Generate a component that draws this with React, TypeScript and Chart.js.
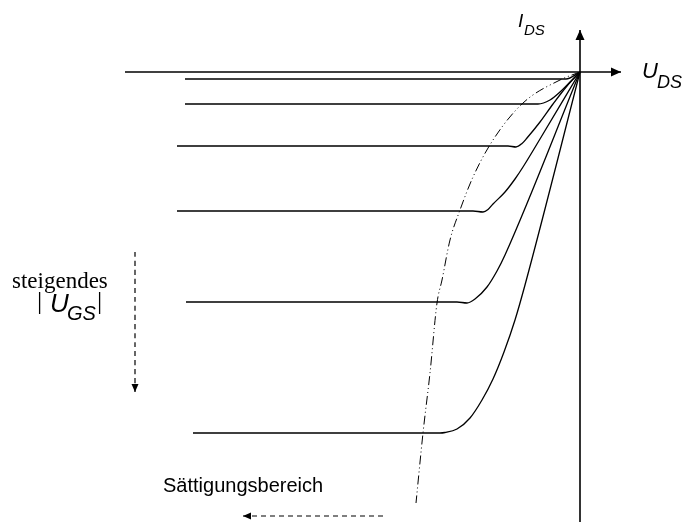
import React, { useEffect, useRef } from "react";
import { Chart, registerables } from "chart.js";

Chart.register(...registerables);

// Output characteristic curves (U_DS, I_DS) in arbitrary units, origin at (0,0)
const curve1 = [
  { x: -39.5, y: -0.7 }, { x: -1.4, y: -0.7 }, { x: 0, y: 0 },
];
const curve2 = [
  { x: -39.5, y: -3.2 }, { x: -4.2, y: -3.2 }, { x: -3.0, y: -2.8 },
  { x: -2.0, y: -2.0 }, { x: -1.0, y: -1.0 }, { x: 0, y: 0 },
];
const curve3 = [
  { x: -40.3, y: -7.4 }, { x: -7.2, y: -7.4 }, { x: -6.4, y: -7.5 },
  { x: -5.8, y: -7.15 }, { x: -5.3, y: -6.6 }, { x: -4.0, y: -5.0 },
  { x: -2.7, y: -3.2 }, { x: -1.3, y: -1.4 }, { x: 0, y: 0 },
];
const curve4 = [
  { x: -40.3, y: -13.9 }, { x: -10.7, y: -13.9 }, { x: -9.7, y: -14.0 },
  { x: -9.2, y: -13.75 }, { x: -8.7, y: -13.2 }, { x: -7.5, y: -12.0 },
  { x: -6.5, y: -10.7 }, { x: -5.7, y: -9.5 }, { x: -4.0, y: -6.7 },
  { x: 0, y: 0 },
];
const curve5 = [
  { x: -39.4, y: -23.0 }, { x: -12.3, y: -23.0 }, { x: -11.3, y: -23.1 },
  { x: -10.5, y: -22.7 }, { x: -9.3, y: -21.5 }, { x: -8.3, y: -19.9 },
  { x: -7.5, y: -18.3 }, { x: 0, y: 0 },
];
const curve6 = [
  { x: -38.7, y: -36.1 }, { x: -14.0, y: -36.1 }, { x: -13.5, y: -36.05 },
  { x: -12.3, y: -35.7 }, { x: -11.0, y: -34.6 }, { x: -9.8, y: -32.8 },
  { x: -8.7, y: -30.7 }, { x: -7.6, y: -28.0 }, { x: -6.5, y: -24.8 },
  { x: -5.5, y: -21.3 }, { x: 0, y: 0 },
];
// Boundary of the saturation region (dash-dot)
const boundary = [
  { x: 0, y: 0 }, { x: -2.0, y: -0.8 }, { x: -5.7, y: -3.1 },
  { x: -8.7, y: -6.8 }, { x: -10.7, y: -10.5 }, { x: -12.0, y: -13.8 },
  { x: -13.0, y: -16.8 }, { x: -13.8, y: -20.8 }, { x: -14.3, y: -23.1 },
  { x: -15.0, y: -30.1 }, { x: -15.7, y: -36.1 }, { x: -16.4, y: -43.1 },
];
// Axes extents
const xAxisLine = [{ x: -45.5, y: 0 }, { x: 4.1, y: 0 }];
const yAxisLine = [{ x: 0, y: -45.0 }, { x: 0, y: 4.2 }];
// Dashed hint arrows (from -> to)
const ugsArrow = [{ x: -44.5, y: -18.0 }, { x: -44.5, y: -32.0 }];
const satArrow = [{ x: -19.7, y: -44.4 }, { x: -33.7, y: -44.4 }];
// Texts
const labelSteigendes = "steigendes";
const labelSat = "Sättigungsbereich";

const X_MIN = -58, X_MAX = 10.5, Y_MIN = -45.3, Y_MAX = 7.2;

export default function App() {
  const ref = useRef<HTMLCanvasElement | null>(null);
  useEffect(() => {
    if (!ref.current) return;
    const curveDs = (data: any[]) => ({
      data, showLine: true, borderColor: "#000", borderWidth: 1.3,
      pointRadius: 0, cubicInterpolationMode: "monotone" as const,
      clip: false as any, fill: false,
    });
    const sans = "'Liberation Sans', Arial, sans-serif";
    const serif = "'Liberation Serif', 'Times New Roman', serif";
    const decor = {
      id: "decor",
      afterDatasetsDraw(chart: any) {
        const ctx = chart.ctx as CanvasRenderingContext2D;
        const xs = chart.scales.x, ys = chart.scales.y;
        const px = (v: number) => xs.getPixelForValue(v);
        const py = (v: number) => ys.getPixelForValue(v);
        ctx.save();
        ctx.fillStyle = "#000";
        ctx.strokeStyle = "#000";
        // axis arrowheads
        const tipX = { x: px(xAxisLine[1].x), y: py(0) };
        ctx.beginPath();
        ctx.moveTo(tipX.x, tipX.y);
        ctx.lineTo(tipX.x - 10, tipX.y - 4.5);
        ctx.lineTo(tipX.x - 10, tipX.y + 4.5);
        ctx.closePath(); ctx.fill();
        const tipY = { x: px(0), y: py(yAxisLine[1].y) };
        ctx.beginPath();
        ctx.moveTo(tipY.x, tipY.y);
        ctx.lineTo(tipY.x - 4.5, tipY.y + 10);
        ctx.lineTo(tipY.x + 4.5, tipY.y + 10);
        ctx.closePath(); ctx.fill();
        // dashed arrow heads
        const a1 = { x: px(ugsArrow[1].x), y: py(ugsArrow[1].y) };
        ctx.beginPath();
        ctx.moveTo(a1.x, a1.y);
        ctx.lineTo(a1.x - 3.5, a1.y - 8);
        ctx.lineTo(a1.x + 3.5, a1.y - 8);
        ctx.closePath(); ctx.fill();
        const a2 = { x: px(satArrow[1].x), y: py(satArrow[1].y) };
        ctx.beginPath();
        ctx.moveTo(a2.x, a2.y);
        ctx.lineTo(a2.x + 8, a2.y - 3.5);
        ctx.lineTo(a2.x + 8, a2.y + 3.5);
        ctx.closePath(); ctx.fill();
        // texts
        ctx.textBaseline = "alphabetic";
        ctx.textAlign = "left";
        // I_DS
        ctx.font = "italic 19px " + sans;
        ctx.fillText("I", px(-6.2), py(4.5));
        ctx.font = "italic 15px " + sans;
        ctx.fillText("DS", px(-5.6), py(3.7));
        // U_DS
        ctx.font = "italic 22px " + sans;
        ctx.fillText("U", px(6.2), py(-0.6));
        ctx.font = "italic 18px " + sans;
        ctx.fillText("DS", px(7.7), py(-1.6));
        // steigendes |U_GS|
        ctx.font = "23px " + serif;
        ctx.fillText(labelSteigendes, px(-56.8), py(-21.6));
        ctx.font = "26px " + serif;
        ctx.fillText("|", px(-54.3), py(-23.7));
        ctx.fillText("|", px(-48.3), py(-23.7));
        ctx.font = "italic 26px " + sans;
        ctx.fillText("U", px(-53.0), py(-24.0));
        ctx.font = "italic 20px " + sans;
        ctx.fillText("GS", px(-51.3), py(-24.8));
        // Sättigungsbereich
        ctx.font = "20px " + sans;
        ctx.fillText(labelSat, px(-41.7), py(-42.0));
        ctx.restore();
      },
    };
    const chart = new Chart(ref.current, {
      type: "scatter",
      data: {
        datasets: [
          { ...curveDs(xAxisLine), borderWidth: 1.6 },
          { ...curveDs(yAxisLine), borderWidth: 1.6 },
          curveDs(curve1), curveDs(curve2), curveDs(curve3),
          curveDs(curve4), curveDs(curve5), curveDs(curve6),
          { ...curveDs(boundary), borderWidth: 1, borderDash: [9, 3, 1, 3, 1, 3] },
          { ...curveDs(ugsArrow), borderWidth: 1.2, borderDash: [5, 4] },
          { ...curveDs(satArrow), borderWidth: 1.2, borderDash: [5, 4] },
        ],
      },
      options: {
        responsive: false,
        animation: false,
        layout: { padding: 0 },
        plugins: { legend: { display: false }, tooltip: { enabled: false } },
        scales: {
          x: { type: "linear", min: X_MIN, max: X_MAX, display: false },
          y: { type: "linear", min: Y_MIN, max: Y_MAX, display: false },
        },
      },
      plugins: [decor],
    });
    return () => chart.destroy();
  }, []);
  return (
    <div style={{ position: "fixed", left: 0, top: 0, width: 685, height: 525, background: "#fff" }}>
      <canvas ref={ref} width={685} height={525} style={{ display: "block" }} />
    </div>
  );
}
